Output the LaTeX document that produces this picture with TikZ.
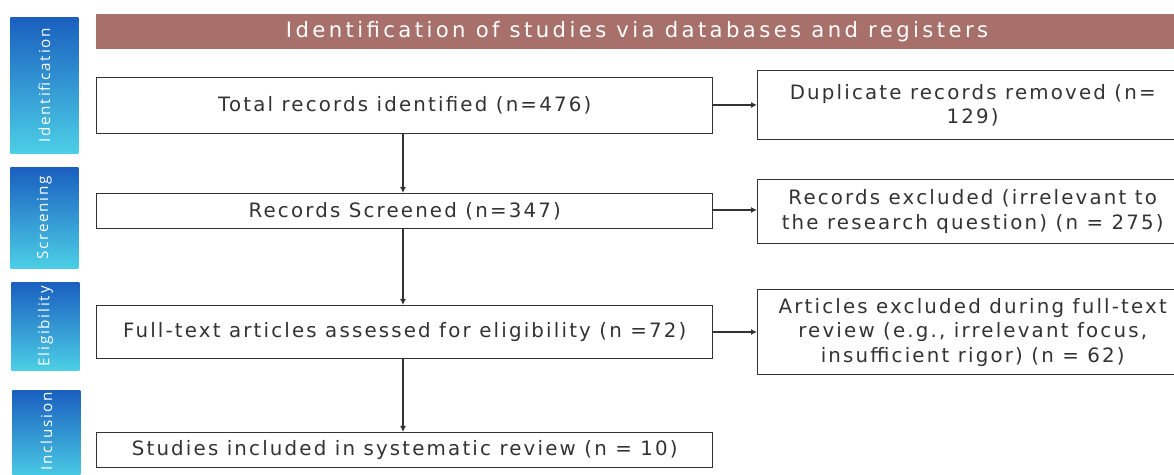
\documentclass[tikz,border=0pt]{standalone}
\usepackage{fontspec}
\setmainfont{DejaVu Sans}
\newfontfamily\boxfont{DejaVu Sans}[LetterSpace=11]
\newfontfamily\hdrfont{DejaVu Sans}[LetterSpace=16]
\newfontfamily\stgfont{Open Sans}[LetterSpace=12]
\usetikzlibrary{arrows.meta}
\definecolor{hdr}{HTML}{A8706A}
\definecolor{bartop}{HTML}{1A5FBF}
\definecolor{barbot}{HTML}{4CCFE6}
\definecolor{txt}{HTML}{333333}
\tikzset{
  stagebar/.style={top color=bartop, bottom color=barbot, draw=none, minimum width=34pt, anchor=north west, inner sep=0pt},
  stagetxt/.style={text=white, font=\stgfont\fontsize{7.6}{9}\selectfont, rotate=90},
  mainbox/.style={draw=txt, line width=0.7pt, fill=white, anchor=north west, minimum width=308pt, inner sep=0pt, text=txt, font=\boxfont\fontsize{9.9}{12.5}\selectfont, align=center},
  sidebox/.style={draw=txt, line width=0.7pt, fill=white, anchor=north west, minimum width=215pt, inner sep=0pt, text=txt, font=\boxfont\fontsize{9.9}{12.3}\selectfont, align=center},
  flow/.style={draw=txt, line width=0.6pt, -{Latex[length=3pt,width=3pt]}}
}
\begin{document}
\begin{tikzpicture}[x=0.5pt,y=-0.5pt]
\useasboundingbox (0,0) rectangle (1174,475);
\clip (0,0) rectangle (1174,475);
% stage bars
\node[stagebar, minimum height=68pt] (sid) at (10,17) {};
\node[stagetxt] at (sid.center) {Identification};
\node[stagebar, minimum height=50.5pt] (ssc) at (10,167) {};
\node[stagetxt] at (ssc.center) {Screening};
\node[stagebar, minimum height=44pt] (sel) at (11,282) {};
\node[stagetxt] at (sel.center) {Eligibility};
\node[stagebar, minimum height=45pt] (sin) at (12,390) {};
\node[stagetxt] at ([yshift=2pt]sin.center) {Inclusion};
% header
\node[fill=hdr, anchor=north west, minimum width=560pt, minimum height=17.5pt, inner sep=0pt] (hd) at (96,14) {};
\node[text=white, font=\hdrfont\fontsize{10.6}{12}\selectfont] at (637,31.5) {Identification of studies via databases and registers};
% main boxes
\node[mainbox, minimum height=28pt] (b1) at (96,77) {Total records identified (n=476)};
\node[mainbox, minimum height=17.5pt] (b2) at (96,193) {Records Screened (n=347)};
\node[mainbox, minimum height=26.5pt] (b3) at (96,305) {Full-text articles assessed for eligibility (n =72)};
\node[mainbox, minimum height=17.5pt] (b4) at (96,432) {Studies included in systematic review (n = 10)};
% side boxes
\node[sidebox, minimum height=34.5pt] (s1) at (757,70) {Duplicate records removed (n=\\129)};
\node[sidebox, minimum height=32pt] (s2) at (757,179) {Records excluded (irrelevant to\\the research question) (n = 275)};
\node[sidebox, minimum height=42.5pt] (s3) at (757,289) {Articles excluded during full-text\\review (e.g., irrelevant focus,\\insufficient rigor) (n = 62)};
% connectors
\coordinate (v) at (403,0);
\draw[flow] (b1.south -| v) -- (b2.north -| v);
\draw[flow] (b2.south -| v) -- (b3.north -| v);
\draw[flow] (b3.south -| v) -- (b4.north -| v);
\draw[flow] (b1.east |- 0,105) -- (s1.west |- 0,105);
\draw[flow] (b2.east |- 0,210) -- (s2.west |- 0,210);
\draw[flow] (b3.east |- 0,332) -- (s3.west |- 0,332);
\end{tikzpicture}
\end{document}
